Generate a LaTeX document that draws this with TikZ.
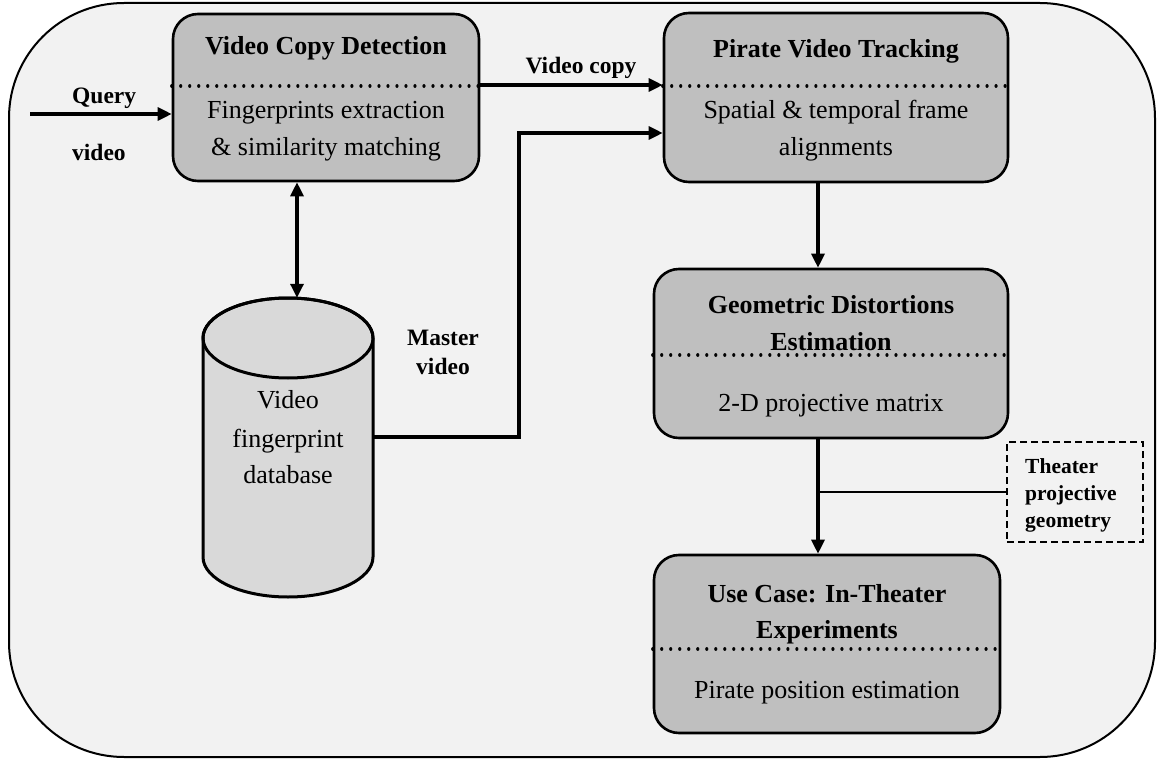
\documentclass[tikz,border=0pt]{standalone}
\usepackage{fontspec}
\setmainfont{Liberation Serif}
\usetikzlibrary{arrows.meta,calc}

\definecolor{panel}{HTML}{F2F2F2}
\definecolor{boxgray}{HTML}{BFBFBF}
\definecolor{cylgray}{HTML}{D9D9D9}

\newcommand\stagetitlefont{\fontsize{26}{37}\selectfont\bfseries}
\newcommand\stagebodyfont{\fontsize{26}{37}\selectfont}
\newcommand\edgelabelfont{\fontsize{23.5}{29}\selectfont\bfseries}
\newcommand\sidenotefont{\fontsize{21.5}{27}\selectfont\bfseries}

\begin{document}
\begin{tikzpicture}[x=1pt,y=-1pt,
  stage/.style={draw, line width=2.6pt, rounded corners=25pt, fill=boxgray, inner sep=0pt},
  sep/.style={line width=3.2pt, line cap=round, dash pattern=on 0.01pt off 9pt},
  txt/.style={inner sep=0pt, anchor=base},
  ttl/.style={txt, font=\stagetitlefont},
  bdy/.style={txt, font=\stagebodyfont},
  elabel/.style={inner sep=0pt, font=\edgelabelfont},
  arr/.style={line width=3.2pt, -{Triangle[length=14pt,width=13pt]}},
  dblarr/.style={line width=3.2pt, {Triangle[length=14pt,width=13pt]}-{Triangle[length=14pt,width=13pt]}},
  link/.style={line width=1.6pt},
  ]
\useasboundingbox (0,0) rectangle (1163,760);

% outer panel
\draw[line width=2pt, fill=panel, rounded corners=115pt] (9,3) rectangle (1155,757);

% stage boxes
\node[stage, minimum width=306pt, minimum height=167pt] (vcd) at (326,97.5) {};
\node[stage, minimum width=344pt, minimum height=169pt] (pvt) at (836,97.5) {};
\node[stage, minimum width=354pt, minimum height=169pt] (gde) at (831,353.5) {};
\node[stage, minimum width=346pt, minimum height=178pt] (uc)  at (827,644) {};

% separator levels
\coordinate (s1) at (0,86);
\coordinate (s3) at (0,355);
\coordinate (s4) at (0,649);
\draw[sep] (vcd.west |- s1) -- (vcd.east |- s1);
\draw[sep] (pvt.west |- s1) -- (pvt.east |- s1);
\draw[sep] (gde.west |- s3) -- (gde.east |- s3);
\draw[sep] (uc.west |- s4)  -- (uc.east |- s4);

% stage texts
\node[ttl] (vcdT)  at (326,55)  {Video Copy Detection};
\node[bdy] (vcdB1) at (326,118) {Fingerprints extraction};
\node[bdy] (vcdB2) at (326,155) {\& similarity matching};

\node[ttl] (pvtT)  at (836,58)  {Pirate Video Tracking};
\node[bdy] (pvtB1) at (836,118) {Spatial \& temporal frame};
\node[bdy] (pvtB2) at (836,155) {alignments};

\node[ttl] (gdeT1) at (831,313) {Geometric Distortions};
\node[ttl] (gdeT2) at (831,350) {Estimation};
\node[bdy] (gdeB)  at (831,411) {2-D projective matrix};

\node[ttl] (ucT1) at (827,602) {Use Case: In-Theater};
\node[ttl] (ucT2) at (827,638) {Experiments};
\node[bdy] (ucB)  at (827,698) {Pirate position estimation};

% fingerprint database cylinder
\node[minimum width=170pt, minimum height=299pt, inner sep=0pt] (db) at (288,447.5) {};
\draw[line width=3pt, fill=cylgray]
  (203,338) -- (203,557) arc[start angle=180, end angle=0, x radius=85, y radius=40]
  -- (373,338) arc[start angle=0, end angle=-180, x radius=85, y radius=40] -- cycle;
\draw[line width=3pt] (288,338) ellipse[x radius=85, y radius=40];
\node[bdy] (dbL1) at (288,408) {Video};
\node[bdy] (dbL2) at (288,447) {fingerprint};
\node[bdy] (dbL3) at (288,483) {database};

% theater geometry note
\node[draw, line width=1.5pt, dash pattern=on 7pt off 4pt, minimum width=136pt, minimum height=100pt, inner sep=0pt] (tpg) at (1075,492) {};
\node[txt, anchor=base west, font=\sidenotefont] (tpg1) at (1025,473) {Theater};
\node[txt, anchor=base west, font=\sidenotefont] (tpg2) at (1025,500) {projective};
\node[txt, anchor=base west, font=\sidenotefont] (tpg3) at (1025,527) {geometry};

% connectors
\coordinate (qin) at (30,114);
\draw[arr] (qin) -- (qin -| vcd.west);
\node[elabel, anchor=base west] (qL1) at (72,103) {Query};
\node[elabel, anchor=base west] (qL2) at (72,160) {video};

\coordinate (cp) at (0,85);
\draw[arr] (vcd.east |- cp) -- (pvt.west |- cp);
\node[elabel, anchor=base] (cpL) at (581,74) {Video copy};

\coordinate (dbx) at (297,0);
\draw[dblarr] (vcd.south -| dbx) -- (db.north -| dbx);

\coordinate (ml) at (0,437);
\coordinate (mx) at (519,0);
\coordinate (ma) at (0,133);
\draw[arr] (db.east |- ml) -- (mx |- ml) -- (mx |- ma) -- (pvt.west |- ma);
\node[elabel, anchor=base] (mL1) at (443,345) {Master};
\node[elabel, anchor=base] (mL2) at (443,374) {video};

\coordinate (ax) at (818,0);
\draw[arr] (pvt.south -| ax) -- (gde.north -| ax);
\draw[arr] (gde.south -| ax) -- (uc.north -| ax);
\draw[link] (tpg.west) -- (tpg.west -| ax);

\end{tikzpicture}
\end{document}
